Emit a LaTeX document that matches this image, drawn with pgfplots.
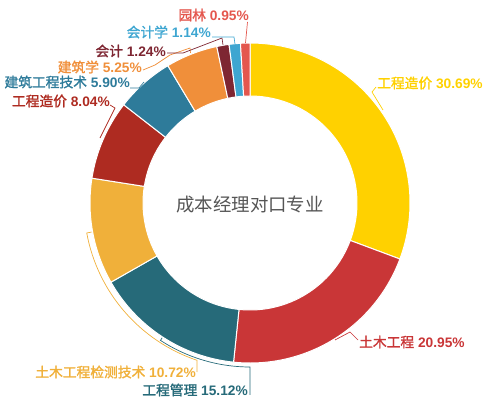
\documentclass[border=0pt]{standalone}
\usepackage{pgfplots}
\pgfplotsset{compat=1.18}
\usepackage{pgfplotstable}
\usepackage{fontspec}
\setmainfont{Liberation Sans}
\newfontfamily\cjk{Noto Sans CJK SC}
\newfontfamily\cjkm{Noto Sans CJK SC}[FakeBold=1.6]

\definecolor{c0}{HTML}{FFD100}
\definecolor{c1}{HTML}{C93637}
\definecolor{c2}{HTML}{266A79}
\definecolor{c3}{HTML}{F0B03A}
\definecolor{c4}{HTML}{AE2B21}
\definecolor{c5}{HTML}{2E7B9A}
\definecolor{c6}{HTML}{F08F3A}
\definecolor{c7}{HTML}{7E2632}
\definecolor{c8}{HTML}{3EA6D1}
\definecolor{c9}{HTML}{E4574E}
\definecolor{titlegray}{HTML}{555555}

% share of each major, clockwise from 12 o'clock
\pgfplotstableread{
value
30.69
20.95
15.12
10.72
8.04
5.90
5.25
1.24
1.14
0.95
}\shares

\newcommand\lbl[5]{\node[anchor=#1, text=#2, inner sep=0pt,
  font=\fontsize{13.8}{16}\selectfont] at (#3) {{\cjkm #4} \textbf{#5\%}};}

\begin{document}
\begin{tikzpicture}
\begin{axis}[
  scale only axis, width=492bp, height=410bp,
  xmin=0, xmax=492, ymin=0, ymax=410,
  hide axis, clip=false,
]
\path (0,0) rectangle (492,410);

% donut slices
\def\cx{250}\def\cy{207}\def\ro{160}\def\ri{107}
\def\cum{0}
\pgfplotsforeachungrouped \i in {0,...,9}{%
  \pgfplotstablegetelem{\i}{value}\of\shares
  \pgfmathsetmacro\a{90-3.6*\cum}%
  \pgfmathsetmacro\b{90-3.6*(\cum+\pgfplotsretval)}%
  \pgfmathsetmacro\cum{\cum+\pgfplotsretval}%
  \pgfmathsetmacro\xa{\cx+\ro*cos(\a)}%
  \pgfmathsetmacro\ya{\cy+\ro*sin(\a)}%
  \pgfmathsetmacro\xb{\cx+\ri*cos(\b)}%
  \pgfmathsetmacro\yb{\cy+\ri*sin(\b)}%
  \edef\slice{\noexpand\fill[c\i, draw=white, line width=1pt]
    (\xa,\ya) arc[start angle=\a, end angle=\b, radius=\ro]
    -- (\xb,\yb) arc[start angle=\b, end angle=\a, radius=\ri] -- cycle;}%
  \slice
}

\node[text=titlegray, font=\cjk\fontsize{18.5}{20}\selectfont] at (250,205) {成本经理对口专业};

% leader lines
\begin{scope}[line width=0.7pt]
\draw[c0] (383,300) -- (372,318) -- (376,323);
\draw[c1] (335,70) -- (350,78) -- (358,70);
\draw[c2] ({250+161*cos(236.9)},{207+161*sin(236.9)}) -- ({250+164*cos(236.9)},{207+164*sin(236.9)})
  arc[start angle=236.9, end angle=270, radius=164] -- (250,15);
\draw[c3] ({250+161*cos(190.4)},{207+161*sin(190.4)}) -- ({250+166*cos(190.4)},{207+166*sin(190.4)})
  arc[start angle=190.4, end angle=251.4, radius=166] -- (197,38);
\draw[c4] (100,272) -- (115,302) -- (110,305);
\draw[c5] (144,328) -- (139,322) -- (130,322);
\draw[c6] (190.5,357) -- (190,362) -- (170,355) -- (155,345) -- (143,340);
\draw[c7] (223,365) -- (222,372) -- (183,357) -- (167,357);
\draw[c8] (235,366) -- (234,373) -- (212,373);
\draw[c9] (245.5,367) -- (247.5,388);
\end{scope}

% labels
\lbl{west}{c0}{377,327}{工程造价}{30.69}
\lbl{west}{c1}{359,68}{土木工程}{20.95}
\lbl{east}{c2}{248,20}{工程管理}{15.12}
\lbl{east}{c3}{196,38}{土木工程检测技术}{10.72}
\lbl{east}{c4}{110,309}{工程造价}{8.04}
\lbl{east}{c5}{130,328}{建筑工程技术}{5.90}
\lbl{east}{c6}{142,343}{建筑学}{5.25}
\lbl{east}{c7}{166,359}{会计}{1.24}
\lbl{east}{c8}{211,378}{会计学}{1.14}
\lbl{east}{c9}{249,395}{园林}{0.95}
\end{axis}
\end{tikzpicture}
\end{document}
